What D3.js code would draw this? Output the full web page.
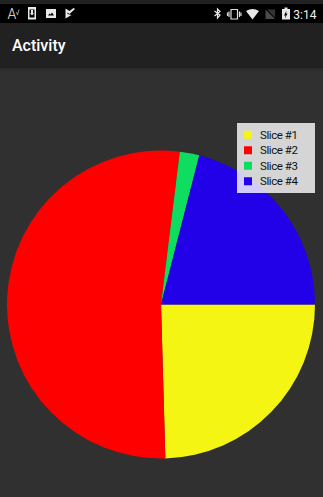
<!DOCTYPE html>
<html lang="en">
<head>
<meta charset="UTF-8">
<title>Activity</title>
<script src="https://d3js.org/d3.v7.min.js"></script>
<style>
    body{
        padding:0;
        margin:0;
        background:#303030;
    }
    svg{
        display:block;
    }
    text{
        font-family:Roboto, sans-serif;
    }
</style>
</head>
<body>
<svg id="chart"></svg>
<script>
let categories = ["Slice #1", "Slice #2", "Slice #3", "Slice #4"];
let values = [24.55, 52.4, 2.05, 21.0];
let colors = ["#f4f512", "#ff0000", "#0fdd5f", "#2200e8"];

let w = 323;
let h = 497;
let cx = 161;
let cy = 304.5;
let radio = 154;

let svg = d3.select("#chart").attr("width", w).attr("height", h);

// app bar and status bar
svg.append("rect").attr("width", w).attr("height", 68).attr("fill", "#212121");
svg.append("rect").attr("y", 4).attr("width", w).attr("height", 19).attr("fill", "#000");
let sombra = svg.append("defs").append("linearGradient")
    .attr("id", "sombra").attr("x2", 0).attr("y2", 1);
sombra.append("stop").attr("offset", 0).attr("stop-color", "#2a2a2a");
sombra.append("stop").attr("offset", 1).attr("stop-color", "#303030");
svg.append("rect").attr("y", 68).attr("width", w).attr("height", 4).attr("fill", "url(#sombra)");

svg.append("text").attr("x", 12).attr("y", 51)
    .attr("font-size", 16).attr("font-weight", 500).attr("fill", "#fff").text("Activity");
svg.append("text").attr("x", 316.500).attr("y", 19).attr("text-anchor", "end")
    .attr("font-size", 12).attr("fill", "#eee").text("3:14");

// status icons, left side
let iconos = svg.append("g").attr("fill", "#e8e8e8");
iconos.append("text").attr("x", 7.500).attr("y", 18.500).attr("font-size", 14).attr("font-weight", 300)
    .attr("fill", "#e8e8e8").text("A");
iconos.append("path").attr("d", "M16.500 12l1 3 1.500-5.500").attr("fill", "none").attr("stroke", "#bbb").attr("stroke-width", 0.8);
iconos.append("path").attr("fill-rule", "evenodd").attr("d", "M28 7h8v12.500h-8zM29.500 9.500v8h5v-8z");
iconos.append("path").attr("d", "M31 10h2v3h1l-2 2.500-2-2.500h1z");
iconos.append("path").attr("fill-rule", "evenodd").attr("d", "M46 9h10v9h-10zM48 15.500h6l-2-3-1.500 2-1-1z");
iconos.append("path").attr("d", "M65.500 8.500l4 2.500 4-3 1.500 1-5.500 5-2-1.500v1.500l4 1-6 3.500z");

// status icons, right side
let iconosDer = svg.append("g").attr("fill", "#e8e8e8");
iconosDer.append("path").attr("fill", "none").attr("stroke", "#e8e8e8").attr("stroke-width", 1.200)
    .attr("d", "M214.500 11l5.500 4-2.500 3v-9l2.500 2.500-5.500 4.500");
iconosDer.append("path").attr("fill", "none").attr("stroke", "#ddd").attr("stroke-width", 1.200)
    .attr("d", "M231 9.500h6.500v9.500h-6.500zM229 11.500v5.500M239.500 11.500v5.500M227.500 12.500v3.500M241 12.500v3.500");
iconosDer.append("path").attr("d", "M246 11q6.500-4 13 0l-6.500 8.500z");
iconosDer.append("path").attr("fill", "#4a4a4a").attr("d", "M265.500 9.500l9.500 9.500h-9.500z");
iconosDer.append("path").attr("fill", "#333").attr("d", "M267 9.500h8v8z");
iconosDer.append("path").attr("fill-rule", "evenodd").attr("d", "M284.500 7.500h3v1.500h2.500v10.500h-8v-10.500h2.500zM286.500 10.500l-2.500 5h1.500l-0.500 3 2.500-5h-1.500z");

// pie
let pie = d3.pie().sort(null)
    .startAngle(Math.PI / 2)
    .endAngle(Math.PI / 2 + 2 * Math.PI);
let arco = d3.arc().innerRadius(0).outerRadius(radio);

svg.append("g")
    .attr("transform", `translate(${cx},${cy})`)
    .selectAll("path")
    .data(pie(values))
    .enter().append("path")
    .attr("d", arco)
    .attr("fill", (d, i) => colors[i]);

// legend
let leyenda = svg.append("g").attr("transform", "translate(237,123)");
leyenda.append("rect").attr("width", 78).attr("height", 70)
    .attr("fill", "#ffffff").attr("fill-opacity", 0.8);

let filas = d3.scaleBand().domain(categories).range([4, 66]);

let fila = leyenda.selectAll("g.fila")
    .data(categories)
    .enter().append("g")
    .attr("class", "fila")
    .attr("transform", d => `translate(0,${filas(d) + filas.bandwidth() / 2})`);

fila.append("rect").attr("x", 7).attr("y", -4).attr("width", 8).attr("height", 8)
    .attr("fill", (d, i) => colors[i]);
fila.append("text").attr("x", 23).attr("y", 4)
    .attr("font-size", 11.500).attr("textLength", 38).attr("fill", "#111").text(d => d);
</script>
</body>
</html>
